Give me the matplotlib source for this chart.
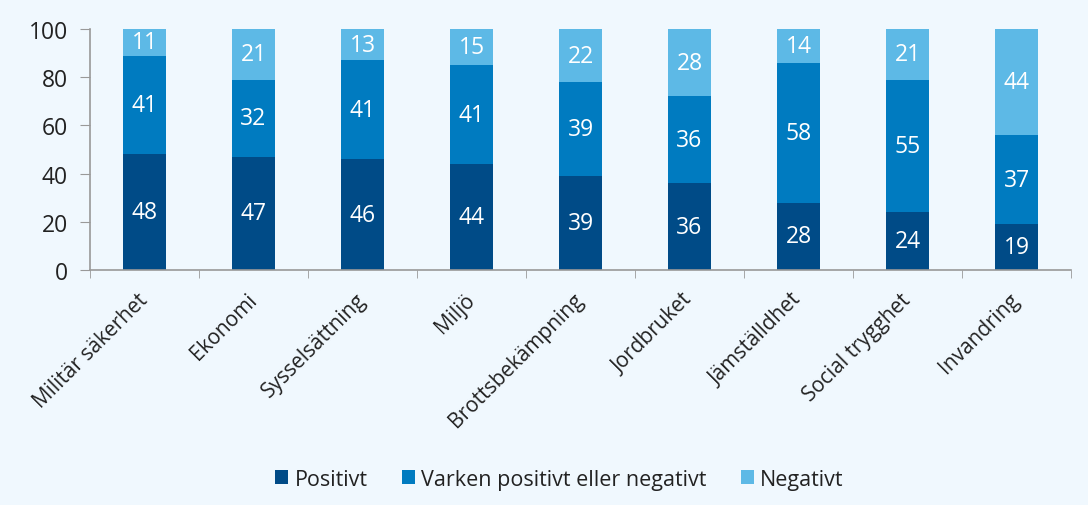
import matplotlib.pyplot as plt
import numpy as np

categories = ['Militär säkerhet', 'Ekonomi', 'Sysselsättning', 'Miljö',
              'Brottsbekämpning', 'Jordbruket', 'Jämställdhet',
              'Social trygghet', 'Invandring']
positivt = [48, 47, 46, 44, 39, 36, 28, 24, 19]
varken = [41, 32, 41, 41, 39, 36, 58, 55, 37]
negativt = [11, 21, 13, 15, 22, 28, 14, 21, 44]
series_names = ['Positivt', 'Varken positivt eller negativt', 'Negativt']

plt.rcParams['font.family'] = ['Open Sans', 'DejaVu Sans']
bg = '#f0f8fe'
colors = ['#004b87', '#007bc0', '#5db9e6']

fig = plt.figure(figsize=(10.88, 5.06), dpi=100, facecolor=bg)
ax = fig.add_axes([0.0827, 0.4644, 0.9017, 0.4763])
ax.set_facecolor(bg)

x = np.arange(len(categories))
bottom = np.zeros(len(categories))
for vals, col, name in zip([positivt, varken, negativt], colors, series_names):
    bars = ax.bar(x, vals, 0.4, bottom=bottom, color=col, label=name,
                  edgecolor='none')
    ax.bar_label(bars, labels=[str(v) for v in vals], label_type='center',
                 color='white', fontsize=16.5)
    bottom += np.array(vals)

ax.set_xlim(-0.5, len(categories) - 0.5)
ax.set_ylim(0, 100)
ax.set_yticks(range(0, 101, 20))
ax.tick_params(axis='y', labelsize=16.5, length=7, color='#999999', pad=9,
               labelcolor='#222222')

ax.set_xticks(x)
ax.set_xticklabels(categories, rotation=45, ha='right', va='center',
                   rotation_mode='anchor', fontsize=15, color='#222222')
ax.tick_params(axis='x', which='major', length=0, pad=19)
ax.set_xticks(np.arange(-0.5, len(categories)), minor=True)
ax.tick_params(axis='x', which='minor', length=6, color='#999999')

for s in ['top', 'right']:
    ax.spines[s].set_visible(False)
for s in ['left', 'bottom']:
    ax.spines[s].set_color('#999999')
    ax.spines[s].set_linewidth(1.2)

fig.legend(loc='center', bbox_to_anchor=(0.514, 0.051), ncol=3, frameon=False,
           fontsize=15.5, handlelength=0.6, handleheight=0.6, handletextpad=0.28,
           columnspacing=1.6, labelcolor='#222222')

fig.savefig('out.png', dpi=100, facecolor=bg)
